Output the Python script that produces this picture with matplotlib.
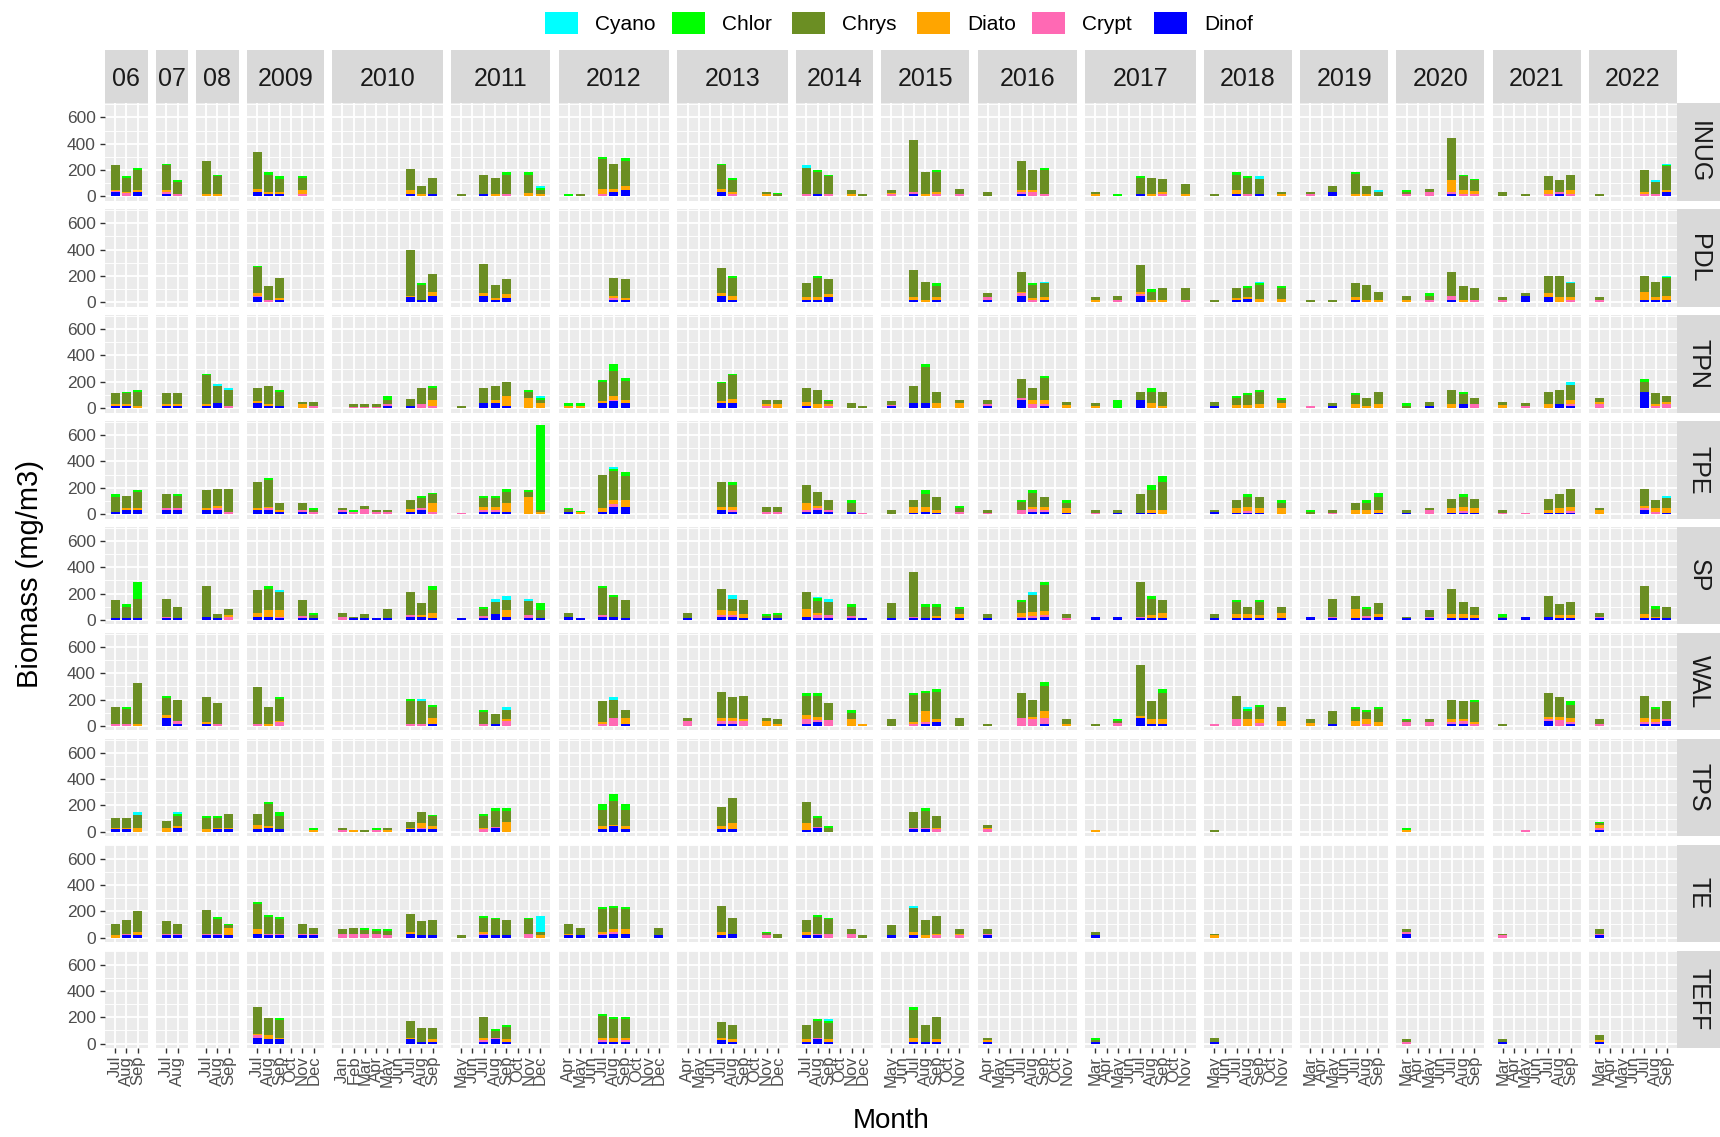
import matplotlib.pyplot as plt
from matplotlib.patches import Rectangle

plt.rcParams['font.family'] = ['Liberation Sans', 'DejaVu Sans']

# facet columns (years) and the sampled months shown on each x axis
YEARS = ["06", "07", "08", "2009", "2010", "2011", "2012", "2013", "2014",
         "2015", "2016", "2017", "2018", "2019", "2020", "2021", "2022"]
YEAR_MONTHS = [
    ["Jul", "Aug", "Sep"],
    ["Jul", "Aug"],
    ["Jul", "Aug", "Sep"],
    ["Jul", "Aug", "Sep", "Oct", "Nov", "Dec"],
    ["Jan", "Feb", "Mar", "Apr", "May", "Jun", "Jul", "Aug", "Sep"],
    ["May", "Jun", "Jul", "Aug", "Sep", "Oct", "Nov", "Dec"],
    ["Apr", "May", "Jun", "Jul", "Aug", "Sep", "Oct", "Nov", "Dec"],
    ["Apr", "May", "Jun", "Jul", "Aug", "Sep", "Oct", "Nov", "Dec"],
    ["Jul", "Aug", "Sep", "Oct", "Nov", "Dec"],
    ["May", "Jun", "Jul", "Aug", "Sep", "Oct", "Nov"],
    ["Apr", "May", "Jun", "Jul", "Aug", "Sep", "Oct", "Nov"],
    ["Mar", "Apr", "May", "Jun", "Jul", "Aug", "Sep", "Oct", "Nov"],
    ["May", "Jun", "Jul", "Aug", "Sep", "Oct", "Nov"],
    ["Mar", "Apr", "May", "Jun", "Jul", "Aug", "Sep"],
    ["Mar", "Apr", "May", "Jun", "Jul", "Aug", "Sep"],
    ["Mar", "Apr", "May", "Jun", "Jul", "Aug", "Sep"],
    ["Mar", "Apr", "May", "Jun", "Jul", "Aug", "Sep"],
]
SITES = ["INUG", "PDL", "TPN", "TPE", "SP", "WAL", "TPS", "TE", "TEFF"]

# stacking order, bottom to top
TAXA = ["Dinof", "Crypt", "Diato", "Chrys", "Chlor", "Cyano"]
COLORS = {"Cyano": "#00FFFF", "Chlor": "#00FF00", "Chrys": "#6B8E23",
          "Diato": "#FFA500", "Crypt": "#FF69B4", "Dinof": "#0000FF"}
LEGEND_ORDER = ["Cyano", "Chlor", "Chrys", "Diato", "Crypt", "Dinof"]

# (year, month, Dinof, Crypt, Diato, Chrys, Chlor, Cyano) in mg/m3
INUG = [
    ("06", "Jul", 30, 12, 10, 183, 0, 0), ("06", "Aug", 0, 25, 10, 105, 14, 0),
    ("06", "Sep", 30, 0, 15, 156, 13, 0),
    ("07", "Jul", 18, 12, 18, 187, 8, 0), ("07", "Aug", 0, 18, 0, 90, 17, 0),
    ("08", "Jul", 0, 0, 18, 253, 0, 0), ("08", "Aug", 0, 0, 18, 140, 8, 0),
    ("2009", "Jul", 30, 0, 25, 285, 0, 0), ("2009", "Aug", 20, 0, 10, 133, 20, 0),
    ("2009", "Sep", 20, 0, 10, 102, 20, 0), ("2009", "Nov", 0, 20, 30, 87, 15, 0),
    ("2010", "Jul", 18, 0, 30, 157, 0, 0), ("2010", "Aug", 0, 0, 18, 64, 0, 0),
    ("2010", "Sep", 20, 0, 0, 116, 0, 0),
    ("2011", "May", 0, 0, 0, 20, 0, 0), ("2011", "Jul", 20, 0, 0, 146, 0, 0),
    ("2011", "Aug", 0, 0, 15, 121, 0, 0), ("2011", "Sep", 0, 18, 0, 148, 18, 0),
    ("2011", "Nov", 0, 0, 25, 141, 18, 0), ("2011", "Dec", 0, 0, 20, 30, 10, 15),
    ("2012", "Apr", 0, 0, 0, 0, 20, 0), ("2012", "May", 0, 0, 0, 20, 0, 0),
    ("2012", "Jul", 0, 18, 38, 230, 13, 0), ("2012", "Aug", 30, 0, 25, 190, 0, 0),
    ("2012", "Sep", 49, 0, 28, 195, 18, 0),
    ("2013", "Jul", 30, 0, 25, 180, 8, 0), ("2013", "Aug", 0, 18, 13, 97, 8, 0),
    ("2013", "Nov", 0, 0, 15, 15, 0, 0), ("2013", "Dec", 0, 0, 0, 18, 8, 0),
    ("2014", "Jul", 0, 18, 0, 197, 0, 20), ("2014", "Aug", 18, 0, 0, 166, 18, 0),
    ("2014", "Sep", 0, 18, 0, 136, 10, 0), ("2014", "Nov", 0, 0, 18, 31, 0, 0),
    ("2014", "Dec", 0, 0, 0, 18, 0, 0),
    ("2015", "May", 0, 18, 8, 23, 0, 0), ("2015", "Jul", 18, 12, 0, 397, 0, 0),
    ("2015", "Aug", 0, 0, 20, 164, 0, 0), ("2015", "Sep", 0, 20, 10, 154, 18, 0),
    ("2015", "Nov", 0, 20, 0, 38, 0, 0),
    ("2016", "Apr", 0, 0, 0, 31, 0, 0), ("2016", "Jul", 20, 10, 18, 223, 0, 0),
    ("2016", "Aug", 0, 30, 18, 154, 0, 0), ("2016", "Sep", 0, 20, 0, 182, 13, 0),
    ("2017", "Mar", 0, 0, 20, 11, 0, 0), ("2017", "May", 0, 0, 0, 0, 20, 0),
    ("2017", "Jul", 20, 0, 0, 118, 15, 0), ("2017", "Aug", 0, 0, 20, 116, 0, 0),
    ("2017", "Sep", 0, 20, 15, 100, 0, 0), ("2017", "Nov", 0, 0, 20, 77, 0, 0),
    ("2018", "May", 0, 0, 0, 20, 0, 0), ("2018", "Jul", 20, 0, 28, 118, 18, 0),
    ("2018", "Aug", 0, 20, 0, 118, 15, 0), ("2018", "Sep", 20, 0, 0, 113, 0, 20),
    ("2018", "Nov", 0, 0, 20, 10, 0, 0),
    ("2019", "Mar", 0, 20, 0, 10, 0, 0), ("2019", "May", 30, 0, 0, 46, 0, 0),
    ("2019", "Jul", 0, 0, 20, 151, 13, 0), ("2019", "Aug", 0, 0, 20, 56, 0, 0),
    ("2019", "Sep", 0, 0, 0, 30, 5, 13),
    ("2020", "Mar", 0, 20, 0, 10, 19, 0), ("2020", "May", 0, 30, 0, 28, 0, 0),
    ("2020", "Jul", 20, 10, 95, 320, 0, 0), ("2020", "Aug", 0, 20, 28, 105, 13, 0),
    ("2020", "Sep", 0, 20, 23, 82, 10, 0),
    ("2021", "Mar", 0, 0, 0, 31, 0, 0), ("2021", "May", 0, 0, 0, 20, 0, 0),
    ("2021", "Jul", 0, 20, 28, 105, 0, 0), ("2021", "Aug", 20, 10, 0, 95, 0, 0),
    ("2021", "Sep", 0, 20, 28, 118, 0, 0),
    ("2022", "Mar", 0, 0, 0, 20, 0, 0), ("2022", "Jul", 0, 20, 15, 167, 0, 0),
    ("2022", "Aug", 0, 20, 0, 87, 0, 18), ("2022", "Sep", 30, 0, 18, 179, 8, 10),
]

PDL = [
    ("2009", "Jul", 38, 10, 20, 196, 15, 0), ("2009", "Aug", 0, 20, 0, 107, 0, 0),
    ("2009", "Sep", 18, 0, 18, 148, 0, 0),
    ("2010", "Jul", 38, 0, 10, 350, 0, 0), ("2010", "Aug", 18, 0, 0, 110, 20, 0),
    ("2010", "Sep", 48, 0, 28, 138, 0, 0),
    ("2011", "Jul", 48, 0, 20, 223, 0, 0), ("2011", "Aug", 18, 0, 18, 92, 0, 0),
    ("2011", "Sep", 36, 0, 28, 110, 0, 0),
    ("2012", "Aug", 18, 18, 13, 135, 0, 0), ("2012", "Sep", 18, 0, 18, 138, 0, 0),
    ("2013", "Jul", 48, 0, 20, 192, 0, 0), ("2013", "Aug", 18, 0, 31, 135, 18, 0),
    ("2014", "Jul", 18, 0, 20, 107, 0, 0), ("2014", "Aug", 18, 0, 25, 140, 18, 0),
    ("2014", "Sep", 38, 0, 25, 110, 0, 0),
    ("2015", "Jul", 18, 0, 20, 204, 0, 0), ("2015", "Aug", 0, 0, 18, 135, 0, 0),
    ("2015", "Sep", 18, 0, 20, 89, 18, 0),
    ("2016", "Apr", 18, 20, 0, 31, 0, 0), ("2016", "Jul", 48, 20, 10, 154, 0, 0),
    ("2016", "Aug", 0, 18, 18, 92, 18, 0), ("2016", "Sep", 18, 0, 20, 107, 0, 10),
    ("2017", "Mar", 0, 0, 18, 20, 0, 0), ("2017", "May", 0, 18, 0, 30, 0, 0),
    ("2017", "Jul", 48, 15, 15, 202, 0, 0), ("2017", "Aug", 0, 0, 18, 61, 18, 0),
    ("2017", "Sep", 0, 0, 18, 89, 0, 0), ("2017", "Nov", 0, 18, 0, 89, 0, 0),
    ("2018", "May", 0, 0, 0, 18, 0, 0), ("2018", "Jul", 18, 0, 18, 71, 0, 0),
    ("2018", "Aug", 28, 0, 15, 64, 18, 0), ("2018", "Sep", 0, 0, 28, 105, 12, 8),
    ("2018", "Nov", 0, 0, 28, 79, 18, 0),
    ("2019", "Mar", 0, 0, 0, 18, 0, 0), ("2019", "May", 0, 0, 0, 18, 0, 0),
    ("2019", "Jul", 18, 0, 20, 107, 0, 0), ("2019", "Aug", 0, 0, 18, 110, 0, 0),
    ("2019", "Sep", 0, 0, 18, 61, 0, 0),
    ("2020", "Mar", 0, 0, 18, 30, 0, 0), ("2020", "May", 0, 18, 0, 30, 20, 0),
    ("2020", "Jul", 18, 30, 0, 184, 0, 0), ("2020", "Aug", 0, 0, 18, 107, 0, 0),
    ("2020", "Sep", 0, 18, 0, 89, 0, 0),
    ("2021", "Mar", 0, 18, 0, 20, 0, 0), ("2021", "May", 48, 0, 0, 20, 0, 0),
    ("2021", "Jul", 38, 0, 31, 133, 0, 0), ("2021", "Aug", 0, 0, 38, 163, 0, 0),
    ("2021", "Sep", 0, 18, 20, 107, 0, 10),
    ("2022", "Mar", 0, 18, 0, 20, 0, 0), ("2022", "Jul", 18, 0, 61, 122, 0, 0),
    ("2022", "Aug", 18, 0, 20, 117, 0, 0), ("2022", "Sep", 18, 0, 31, 135, 10, 8),
]

TPN = [
    ("06", "Jul", 20, 0, 15, 77, 0, 0), ("06", "Aug", 20, 0, 15, 77, 10, 0),
    ("06", "Sep", 0, 0, 20, 102, 18, 0),
    ("07", "Jul", 18, 0, 13, 82, 0, 0), ("07", "Aug", 18, 0, 13, 82, 0, 0),
    ("08", "Jul", 18, 0, 15, 218, 10, 0), ("08", "Aug", 38, 0, 0, 133, 0, 13),
    ("08", "Sep", 0, 18, 0, 123, 0, 13),
    ("2009", "Jul", 38, 0, 13, 102, 0, 0), ("2009", "Aug", 18, 0, 15, 138, 0, 0),
    ("2009", "Sep", 18, 0, 0, 105, 18, 0), ("2009", "Nov", 0, 0, 33, 13, 0, 0),
    ("2009", "Dec", 0, 18, 0, 28, 0, 0),
    ("2010", "Feb", 0, 10, 0, 20, 0, 0), ("2010", "Mar", 0, 10, 0, 20, 0, 0),
    ("2010", "Apr", 0, 10, 0, 20, 0, 0), ("2010", "May", 18, 13, 0, 33, 25, 0),
    ("2010", "Jul", 13, 0, 0, 59, 0, 0), ("2010", "Aug", 0, 31, 0, 123, 0, 0),
    ("2010", "Sep", 0, 18, 46, 90, 18, 0),
    ("2011", "May", 0, 0, 0, 18, 0, 0), ("2011", "Jul", 38, 0, 0, 115, 0, 0),
    ("2011", "Aug", 38, 0, 25, 107, 0, 0), ("2011", "Sep", 18, 0, 77, 107, 0, 0),
    ("2011", "Nov", 0, 0, 77, 46, 18, 0), ("2011", "Dec", 0, 0, 43, 20, 13, 18),
    ("2012", "Apr", 0, 0, 18, 0, 25, 0), ("2012", "May", 0, 0, 18, 0, 18, 0),
    ("2012", "Jul", 38, 0, 13, 148, 18, 0), ("2012", "Aug", 51, 13, 31, 187, 56, 0),
    ("2012", "Sep", 38, 0, 25, 141, 26, 0),
    ("2013", "Jul", 38, 0, 13, 138, 13, 0), ("2013", "Aug", 38, 0, 31, 182, 10, 0),
    ("2013", "Nov", 0, 18, 15, 31, 0, 0), ("2013", "Dec", 0, 0, 33, 31, 0, 0),
    ("2014", "Jul", 18, 0, 28, 107, 0, 0), ("2014", "Aug", 0, 0, 33, 108, 0, 0),
    ("2014", "Sep", 0, 18, 15, 20, 10, 0), ("2014", "Nov", 0, 0, 0, 36, 0, 0),
    ("2014", "Dec", 0, 0, 0, 18, 0, 0),
    ("2015", "May", 13, 10, 0, 32, 0, 0), ("2015", "Jul", 38, 0, 0, 133, 0, 0),
    ("2015", "Aug", 38, 0, 0, 276, 20, 0), ("2015", "Sep", 0, 0, 38, 84, 0, 0),
    ("2015", "Nov", 0, 0, 38, 26, 0, 0),
    ("2016", "Apr", 18, 15, 0, 31, 0, 0), ("2016", "Jul", 64, 13, 0, 141, 0, 0),
    ("2016", "Aug", 0, 33, 31, 90, 0, 0), ("2016", "Sep", 18, 15, 31, 166, 18, 0),
    ("2016", "Nov", 0, 0, 25, 20, 0, 0),
    ("2017", "Mar", 0, 0, 18, 18, 0, 0), ("2017", "May", 0, 0, 0, 0, 64, 0),
    ("2017", "Jul", 64, 0, 0, 59, 0, 0), ("2017", "Aug", 0, 0, 38, 84, 31, 0),
    ("2017", "Sep", 0, 0, 18, 105, 0, 0),
    ("2018", "May", 18, 0, 0, 28, 0, 0), ("2018", "Jul", 0, 0, 25, 51, 18, 0),
    ("2018", "Aug", 0, 0, 25, 72, 15, 0), ("2018", "Sep", 0, 0, 33, 90, 18, 0),
    ("2018", "Nov", 0, 0, 38, 26, 13, 0),
    ("2019", "Mar", 0, 18, 0, 0, 0, 0), ("2019", "May", 18, 0, 0, 18, 0, 0),
    ("2019", "Jul", 0, 0, 33, 64, 15, 0), ("2019", "Aug", 0, 0, 18, 59, 0, 0),
    ("2019", "Sep", 0, 0, 33, 90, 0, 0),
    ("2020", "Mar", 0, 0, 0, 18, 18, 0), ("2020", "May", 18, 0, 0, 28, 0, 0),
    ("2020", "Jul", 0, 0, 33, 108, 0, 0), ("2020", "Aug", 33, 0, 0, 74, 15, 0),
    ("2020", "Sep", 0, 33, 0, 44, 0, 0),
    ("2021", "Mar", 0, 0, 25, 21, 0, 0), ("2021", "May", 0, 18, 0, 18, 0, 0),
    ("2021", "Jul", 0, 0, 33, 90, 0, 0), ("2021", "Aug", 33, 0, 0, 108, 0, 0),
    ("2021", "Sep", 18, 15, 31, 115, 0, 20),
    ("2022", "Mar", 0, 33, 13, 31, 0, 0), ("2022", "Jul", 123, 0, 0, 77, 18, 0),
    ("2022", "Aug", 0, 18, 15, 79, 0, 0), ("2022", "Sep", 0, 33, 13, 49, 0, 0),
]

TPE = [
    ("06", "Jul", 18, 0, 0, 115, 18, 0), ("06", "Aug", 31, 0, 13, 94, 0, 0),
    ("06", "Sep", 31, 0, 18, 120, 15, 0),
    ("07", "Jul", 31, 13, 0, 110, 0, 0), ("07", "Aug", 31, 13, 0, 94, 15, 0),
    ("08", "Jul", 31, 0, 13, 140, 0, 0), ("08", "Aug", 31, 13, 18, 130, 0, 0),
    ("08", "Sep", 0, 18, 0, 173, 0, 0),
    ("2009", "Jul", 31, 0, 18, 191, 0, 0), ("2009", "Aug", 31, 13, 13, 199, 18, 0),
    ("2009", "Sep", 18, 0, 13, 51, 0, 0), ("2009", "Nov", 18, 13, 0, 56, 0, 0),
    ("2009", "Dec", 0, 18, 0, 12, 18, 0),
    ("2010", "Jan", 18, 13, 0, 18, 0, 0), ("2010", "Feb", 0, 18, 0, 0, 13, 0),
    ("2010", "Mar", 0, 36, 0, 25, 0, 0), ("2010", "Apr", 0, 18, 0, 13, 0, 0),
    ("2010", "May", 0, 18, 0, 13, 0, 0), ("2010", "Jul", 18, 0, 18, 71, 0, 0),
    ("2010", "Aug", 31, 13, 0, 77, 18, 0), ("2010", "Sep", 0, 18, 64, 71, 10, 0),
    ("2011", "May", 0, 10, 0, 0, 0, 0), ("2011", "Jul", 18, 13, 25, 64, 18, 0),
    ("2011", "Aug", 18, 13, 25, 64, 18, 0), ("2011", "Sep", 18, 0, 69, 77, 28, 0),
    ("2011", "Nov", 0, 0, 133, 31, 20, 0), ("2011", "Dec", 0, 0, 18, 13, 642, 0),
    ("2012", "Apr", 18, 0, 0, 18, 13, 0), ("2012", "May", 0, 0, 18, 0, 8, 0),
    ("2012", "Jul", 18, 0, 25, 255, 0, 0), ("2012", "Aug", 56, 20, 31, 217, 18, 13),
    ("2012", "Sep", 51, 0, 56, 184, 25, 0),
    ("2013", "Jul", 31, 0, 20, 189, 0, 0), ("2013", "Aug", 18, 13, 25, 166, 18, 0),
    ("2013", "Nov", 0, 18, 0, 38, 0, 0), ("2013", "Dec", 0, 18, 0, 38, 0, 0),
    ("2014", "Jul", 18, 13, 56, 135, 0, 0), ("2014", "Aug", 31, 13, 18, 102, 0, 0),
    ("2014", "Sep", 18, 13, 0, 77, 0, 0), ("2014", "Nov", 18, 0, 0, 69, 20, 0),
    ("2014", "Dec", 0, 10, 0, 0, 0, 0),
    ("2015", "May", 0, 0, 0, 31, 0, 0), ("2015", "Jul", 10, 0, 46, 51, 0, 0),
    ("2015", "Aug", 18, 0, 38, 97, 31, 0), ("2015", "Sep", 10, 0, 20, 102, 0, 0),
    ("2015", "Nov", 0, 18, 0, 25, 18, 0),
    ("2016", "Apr", 0, 10, 0, 21, 0, 0), ("2016", "Jul", 0, 31, 0, 61, 15, 0),
    ("2016", "Aug", 18, 18, 20, 107, 20, 0), ("2016", "Sep", 18, 13, 25, 77, 0, 0),
    ("2016", "Nov", 10, 0, 33, 43, 20, 0),
    ("2017", "Mar", 0, 10, 0, 21, 0, 0), ("2017", "May", 10, 0, 0, 21, 0, 0),
    ("2017", "Jul", 10, 0, 0, 143, 0, 0), ("2017", "Aug", 10, 0, 20, 153, 38, 0),
    ("2017", "Sep", 0, 0, 31, 209, 51, 0),
    ("2018", "May", 18, 0, 0, 13, 0, 0), ("2018", "Jul", 10, 0, 33, 64, 0, 0),
    ("2018", "Aug", 10, 15, 25, 82, 20, 0), ("2018", "Sep", 10, 0, 33, 89, 0, 0),
    ("2018", "Nov", 0, 0, 43, 43, 20, 0),
    ("2019", "Mar", 0, 0, 0, 18, 13, 0), ("2019", "May", 0, 10, 0, 21, 0, 0),
    ("2019", "Jul", 0, 0, 31, 56, 0, 0), ("2019", "Aug", 0, 0, 31, 56, 20, 0),
    ("2019", "Sep", 10, 0, 20, 102, 31, 0),
    ("2020", "Mar", 10, 0, 0, 21, 0, 0), ("2020", "May", 0, 31, 0, 18, 0, 0),
    ("2020", "Jul", 10, 0, 33, 72, 0, 0), ("2020", "Aug", 10, 15, 25, 82, 20, 0),
    ("2020", "Sep", 10, 0, 33, 72, 0, 0),
    ("2021", "Mar", 0, 10, 0, 21, 0, 0), ("2021", "May", 0, 10, 0, 0, 0, 0),
    ("2021", "Jul", 10, 0, 20, 85, 0, 0), ("2021", "Aug", 10, 0, 33, 110, 0, 0),
    ("2021", "Sep", 10, 15, 25, 140, 0, 0),
    ("2022", "Mar", 0, 0, 31, 18, 0, 0), ("2022", "Jul", 31, 13, 18, 130, 0, 0),
    ("2022", "Aug", 0, 18, 25, 64, 0, 0), ("2022", "Sep", 10, 0, 33, 77, 0, 18),
]

SP = [
    ("06", "Jul", 18, 0, 0, 135, 0, 0), ("06", "Aug", 18, 0, 0, 84, 18, 0),
    ("06", "Sep", 18, 0, 0, 143, 128, 0),
    ("07", "Jul", 18, 8, 0, 135, 0, 0), ("07", "Aug", 18, 0, 0, 84, 0, 0),
    ("08", "Jul", 25, 0, 0, 230, 0, 0), ("08", "Aug", 18, 0, 0, 25, 0, 0),
    ("08", "Sep", 0, 25, 13, 46, 0, 0),
    ("2009", "Jul", 25, 0, 25, 179, 0, 0), ("2009", "Aug", 25, 0, 51, 161, 18, 0),
    ("2009", "Sep", 18, 8, 51, 133, 0, 20), ("2009", "Nov", 18, 15, 0, 120, 0, 0),
    ("2009", "Dec", 18, 0, 0, 20, 13, 0),
    ("2010", "Jan", 0, 25, 0, 25, 0, 0), ("2010", "Feb", 18, 0, 0, 7, 0, 0),
    ("2010", "Mar", 18, 0, 0, 25, 0, 0), ("2010", "Apr", 18, 0, 0, 0, 0, 0),
    ("2010", "May", 18, 0, 0, 66, 0, 0), ("2010", "Jul", 25, 13, 0, 171, 0, 0),
    ("2010", "Aug", 25, 0, 13, 94, 0, 0), ("2010", "Sep", 18, 0, 33, 179, 25, 0),
    ("2011", "May", 18, 0, 0, 0, 0, 0), ("2011", "Jul", 18, 15, 0, 51, 18, 0),
    ("2011", "Aug", 43, 0, 0, 92, 0, 26), ("2011", "Sep", 25, 0, 51, 77, 0, 26),
    ("2011", "Nov", 18, 20, 0, 107, 0, 15), ("2011", "Dec", 18, 0, 0, 59, 51, 0),
    ("2012", "Apr", 25, 0, 0, 25, 0, 0), ("2012", "May", 18, 0, 0, 0, 0, 0),
    ("2012", "Jul", 25, 13, 0, 204, 13, 0), ("2012", "Aug", 25, 0, 0, 146, 16, 0),
    ("2012", "Sep", 18, 0, 0, 135, 0, 0),
    ("2013", "Apr", 18, 0, 0, 33, 0, 0), ("2013", "Jul", 25, 13, 38, 158, 0, 0),
    ("2013", "Aug", 25, 13, 31, 92, 0, 26), ("2013", "Sep", 18, 0, 25, 110, 0, 0),
    ("2013", "Nov", 18, 0, 0, 15, 10, 0), ("2013", "Dec", 18, 0, 0, 20, 13, 0),
    ("2014", "Jul", 25, 0, 59, 125, 0, 0), ("2014", "Aug", 18, 20, 13, 94, 20, 13),
    ("2014", "Sep", 18, 20, 0, 97, 0, 26), ("2014", "Nov", 18, 15, 0, 69, 18, 0),
    ("2014", "Dec", 18, 0, 0, 0, 0, 0),
    ("2015", "May", 18, 0, 0, 112, 0, 0), ("2015", "Jul", 18, 8, 0, 340, 0, 0),
    ("2015", "Aug", 18, 0, 0, 84, 18, 0), ("2015", "Sep", 18, 0, 10, 74, 18, 0),
    ("2015", "Nov", 18, 0, 25, 41, 18, 0),
    ("2016", "Apr", 18, 0, 0, 25, 0, 0), ("2016", "Jul", 18, 8, 25, 84, 18, 0),
    ("2016", "Aug", 18, 15, 25, 128, 0, 26), ("2016", "Sep", 25, 13, 31, 194, 26, 0),
    ("2016", "Nov", 0, 18, 0, 25, 0, 0),
    ("2017", "Mar", 25, 0, 0, 0, 0, 0), ("2017", "May", 25, 0, 0, 0, 0, 0),
    ("2017", "Jul", 18, 8, 0, 262, 0, 0), ("2017", "Aug", 18, 0, 20, 123, 18, 0),
    ("2017", "Sep", 18, 0, 33, 102, 0, 0),
    ("2018", "May", 18, 0, 0, 25, 0, 0), ("2018", "Jul", 18, 0, 25, 92, 18, 0),
    ("2018", "Aug", 18, 0, 25, 59, 0, 0), ("2018", "Sep", 18, 0, 20, 97, 18, 0),
    ("2018", "Nov", 18, 0, 33, 51, 0, 0),
    ("2019", "Mar", 25, 0, 0, 0, 0, 0), ("2019", "May", 18, 8, 0, 135, 0, 0),
    ("2019", "Jul", 18, 0, 66, 95, 0, 0), ("2019", "Aug", 18, 15, 0, 51, 18, 0),
    ("2019", "Sep", 25, 0, 18, 84, 0, 0),
    ("2020", "Mar", 18, 0, 0, 7, 0, 0), ("2020", "May", 18, 8, 0, 51, 0, 0),
    ("2020", "Jul", 18, 0, 25, 194, 0, 0), ("2020", "Aug", 18, 0, 25, 92, 0, 0),
    ("2020", "Sep", 18, 0, 20, 64, 0, 0),
    ("2021", "Mar", 18, 0, 0, 7, 18, 0), ("2021", "May", 25, 0, 0, 0, 0, 0),
    ("2021", "Jul", 25, 0, 0, 154, 0, 0), ("2021", "Aug", 18, 0, 20, 82, 0, 0),
    ("2021", "Sep", 18, 0, 20, 95, 0, 0),
    ("2022", "Mar", 18, 8, 0, 25, 0, 0), ("2022", "Jul", 18, 0, 25, 212, 0, 0),
    ("2022", "Aug", 18, 0, 8, 59, 18, 0), ("2022", "Sep", 18, 0, 0, 84, 0, 0),
]

WAL = [
    ("06", "Jul", 0, 13, 0, 129, 0, 0), ("06", "Aug", 0, 13, 0, 114, 15, 0),
    ("06", "Sep", 0, 0, 13, 311, 0, 0),
    ("07", "Jul", 56, 0, 25, 132, 15, 0), ("07", "Aug", 13, 23, 0, 162, 0, 0),
    ("08", "Jul", 13, 0, 18, 187, 0, 0), ("08", "Aug", 0, 13, 0, 157, 0, 0),
    ("2009", "Jul", 0, 13, 0, 283, 0, 0), ("2009", "Aug", 0, 0, 13, 129, 0, 0),
    ("2009", "Sep", 0, 30, 5, 167, 15, 0),
    ("2010", "Jul", 0, 13, 0, 177, 13, 0), ("2010", "Aug", 0, 13, 0, 177, 0, 13),
    ("2010", "Sep", 13, 0, 43, 89, 15, 0),
    ("2011", "Jul", 0, 13, 0, 94, 15, 0), ("2011", "Aug", 13, 0, 0, 78, 0, 0),
    ("2011", "Sep", 0, 35, 20, 63, 0, 23),
    ("2012", "Jul", 0, 13, 18, 159, 0, 0), ("2012", "Aug", 0, 56, 0, 139, 0, 25),
    ("2012", "Sep", 13, 0, 43, 63, 0, 0),
    ("2013", "Apr", 0, 35, 0, 28, 0, 0), ("2013", "Jul", 13, 23, 20, 203, 0, 0),
    ("2013", "Aug", 13, 23, 20, 162, 0, 0), ("2013", "Sep", 0, 35, 20, 170, 0, 0),
    ("2013", "Nov", 0, 0, 35, 28, 0, 0), ("2013", "Dec", 0, 0, 13, 38, 0, 0),
    ("2014", "Jul", 13, 38, 30, 149, 18, 0), ("2014", "Aug", 30, 13, 25, 162, 18, 0),
    ("2014", "Sep", 0, 43, 0, 127, 0, 0), ("2014", "Nov", 0, 0, 51, 48, 23, 0),
    ("2014", "Dec", 0, 0, 15, 0, 0, 0),
    ("2015", "May", 0, 0, 0, 50, 0, 0), ("2015", "Jul", 0, 13, 18, 202, 13, 0),
    ("2015", "Aug", 13, 13, 86, 134, 18, 0), ("2015", "Sep", 30, 0, 20, 207, 20, 0),
    ("2015", "Nov", 0, 0, 0, 63, 0, 0),
    ("2016", "Apr", 0, 0, 0, 15, 0, 0), ("2016", "Jul", 0, 56, 0, 192, 0, 0),
    ("2016", "Aug", 0, 51, 18, 129, 0, 0), ("2016", "Sep", 13, 48, 51, 192, 30, 0),
    ("2016", "Nov", 0, 0, 13, 38, 0, 0),
    ("2017", "Mar", 0, 0, 0, 15, 0, 0), ("2017", "May", 0, 25, 0, 10, 15, 0),
    ("2017", "Jul", 56, 0, 20, 384, 0, 0), ("2017", "Aug", 13, 0, 38, 136, 0, 0),
    ("2017", "Sep", 13, 0, 38, 202, 25, 0),
    ("2018", "May", 0, 15, 0, 0, 0, 0), ("2018", "Jul", 0, 51, 0, 177, 0, 0),
    ("2018", "Aug", 0, 0, 51, 61, 15, 15), ("2018", "Sep", 0, 18, 33, 91, 18, 0),
    ("2018", "Nov", 0, 0, 35, 106, 0, 0),
    ("2019", "Mar", 0, 0, 18, 33, 0, 0), ("2019", "May", 13, 0, 0, 98, 0, 0),
    ("2019", "Jul", 0, 0, 35, 91, 15, 0), ("2019", "Aug", 0, 13, 38, 56, 15, 0),
    ("2019", "Sep", 0, 0, 30, 96, 15, 0),
    ("2020", "Mar", 0, 30, 0, 13, 8, 0), ("2020", "May", 0, 30, 0, 20, 0, 0),
    ("2020", "Jul", 13, 18, 20, 147, 0, 0), ("2020", "Aug", 13, 23, 15, 136, 0, 0),
    ("2020", "Sep", 0, 13, 20, 152, 12, 0),
    ("2021", "Mar", 0, 0, 0, 15, 0, 0), ("2021", "Jul", 35, 15, 18, 180, 0, 0),
    ("2021", "Aug", 0, 43, 25, 150, 0, 0), ("2021", "Sep", 13, 18, 30, 96, 30, 0),
    ("2022", "Mar", 0, 13, 0, 38, 0, 0), ("2022", "Jul", 13, 13, 35, 167, 0, 0),
    ("2022", "Aug", 13, 13, 25, 76, 15, 0), ("2022", "Sep", 35, 15, 0, 137, 0, 0),
]

TPS = [
    ("06", "Jul", 20, 0, 10, 71, 0, 0), ("06", "Aug", 20, 0, 10, 71, 0, 0),
    ("06", "Sep", 0, 0, 30, 96, 0, 25),
    ("07", "Jul", 0, 0, 30, 50, 0, 0), ("07", "Aug", 30, 0, 15, 76, 15, 15),
    ("08", "Jul", 0, 0, 20, 86, 15, 0), ("08", "Aug", 20, 0, 10, 76, 15, 0),
    ("08", "Sep", 20, 0, 10, 103, 0, 0),
    ("2009", "Jul", 20, 0, 35, 78, 0, 0), ("2009", "Aug", 30, 0, 15, 164, 18, 0),
    ("2009", "Sep", 20, 0, 0, 101, 30, 0), ("2009", "Dec", 0, 0, 15, 0, 10, 0),
    ("2010", "Jan", 0, 15, 0, 10, 0, 0), ("2010", "Feb", 0, 0, 15, 0, 0, 0),
    ("2010", "Mar", 0, 0, 0, 15, 0, 0), ("2010", "Apr", 0, 15, 0, 0, 10, 0),
    ("2010", "May", 0, 0, 15, 10, 0, 0), ("2010", "Jul", 20, 0, 10, 45, 0, 0),
    ("2010", "Aug", 20, 10, 40, 81, 0, 0), ("2010", "Sep", 20, 0, 25, 71, 15, 0),
    ("2011", "Jul", 0, 20, 10, 88, 15, 0), ("2011", "Aug", 30, 10, 0, 116, 25, 0),
    ("2011", "Sep", 0, 0, 71, 86, 25, 0),
    ("2012", "Jul", 20, 0, 25, 121, 43, 0), ("2012", "Aug", 45, 0, 10, 179, 50, 0),
    ("2012", "Sep", 20, 0, 25, 121, 43, 0),
    ("2013", "Jul", 20, 0, 25, 146, 0, 0), ("2013", "Aug", 20, 0, 50, 187, 0, 0),
    ("2014", "Jul", 15, 0, 55, 156, 0, 0), ("2014", "Aug", 25, 15, 0, 66, 15, 0),
    ("2014", "Sep", 0, 0, 0, 30, 15, 0),
    ("2015", "Jul", 20, 10, 0, 121, 0, 0), ("2015", "Aug", 20, 10, 0, 131, 20, 0),
    ("2015", "Sep", 0, 20, 10, 91, 0, 0),
    ("2016", "Apr", 0, 20, 10, 25, 0, 0),
    ("2017", "Mar", 0, 0, 15, 0, 0, 0),
    ("2018", "May", 0, 0, 0, 15, 0, 0),
    ("2020", "Mar", 0, 0, 15, 0, 10, 0),
    ("2021", "May", 0, 15, 0, 0, 0, 0),
    ("2022", "Mar", 15, 15, 25, 13, 8, 0),
]

TE = [
    ("06", "Jul", 0, 0, 18, 85, 0, 0), ("06", "Aug", 18, 8, 0, 105, 0, 0),
    ("06", "Sep", 18, 0, 25, 156, 0, 0),
    ("07", "Jul", 18, 8, 0, 98, 0, 0), ("07", "Aug", 18, 8, 0, 78, 0, 0),
    ("08", "Jul", 18, 8, 0, 186, 0, 0), ("08", "Aug", 18, 13, 0, 108, 15, 0),
    ("08", "Sep", 18, 0, 55, 20, 10, 0),
    ("2009", "Jul", 30, 0, 33, 193, 13, 0), ("2009", "Aug", 18, 8, 0, 128, 15, 0),
    ("2009", "Sep", 18, 8, 0, 113, 15, 0), ("2009", "Nov", 18, 8, 0, 78, 0, 0),
    ("2009", "Dec", 18, 13, 0, 43, 0, 0),
    ("2010", "Jan", 0, 30, 0, 33, 0, 0), ("2010", "Feb", 0, 30, 0, 43, 0, 0),
    ("2010", "Mar", 0, 30, 0, 25, 18, 0), ("2010", "Apr", 0, 30, 0, 18, 15, 0),
    ("2010", "May", 0, 23, 0, 25, 15, 0), ("2010", "Jul", 30, 0, 13, 138, 0, 0),
    ("2010", "Aug", 18, 0, 0, 105, 0, 0), ("2010", "Sep", 18, 0, 0, 113, 0, 0),
    ("2011", "May", 0, 0, 0, 18, 0, 0), ("2011", "Jul", 18, 10, 15, 110, 15, 0),
    ("2011", "Aug", 18, 0, 0, 120, 15, 0), ("2011", "Sep", 18, 0, 0, 113, 0, 0),
    ("2011", "Nov", 0, 28, 0, 110, 15, 0), ("2011", "Dec", 0, 0, 18, 25, 0, 125),
    ("2012", "Apr", 18, 0, 12, 73, 0, 0), ("2012", "May", 18, 0, 0, 55, 0, 0),
    ("2012", "Jul", 18, 10, 15, 176, 13, 0), ("2012", "Aug", 30, 13, 20, 161, 15, 0),
    ("2012", "Sep", 30, 0, 33, 156, 13, 0), ("2012", "Dec", 18, 0, 0, 55, 0, 0),
    ("2013", "Jul", 18, 0, 25, 196, 0, 0), ("2013", "Aug", 30, 0, 0, 123, 0, 0),
    ("2013", "Nov", 0, 18, 0, 15, 10, 0), ("2013", "Dec", 0, 0, 0, 25, 0, 0),
    ("2014", "Jul", 18, 0, 25, 88, 0, 0), ("2014", "Aug", 18, 13, 0, 123, 15, 0),
    ("2014", "Sep", 0, 28, 0, 110, 15, 0), ("2014", "Nov", 0, 28, 0, 35, 0, 0),
    ("2014", "Dec", 0, 0, 0, 18, 0, 0),
    ("2015", "May", 18, 0, 0, 75, 0, 0), ("2015", "Jul", 18, 0, 25, 181, 0, 15),
    ("2015", "Aug", 0, 0, 18, 113, 0, 0), ("2015", "Sep", 0, 18, 12, 138, 0, 0),
    ("2015", "Nov", 0, 18, 13, 33, 0, 0),
    ("2016", "Apr", 18, 13, 0, 33, 0, 0),
    ("2017", "Mar", 18, 0, 0, 25, 0, 0),
    ("2018", "May", 0, 0, 18, 7, 0, 0),
    ("2020", "Mar", 30, 13, 0, 20, 0, 0),
    ("2021", "Mar", 0, 18, 0, 7, 0, 0),
    ("2022", "Mar", 18, 8, 0, 38, 0, 0),
]

TEFF = [
    ("2009", "Jul", 44, 20, 10, 200, 0, 0), ("2009", "Aug", 32, 0, 32, 133, 0, 0),
    ("2009", "Sep", 32, 0, 12, 138, 15, 0),
    ("2010", "Jul", 32, 0, 12, 124, 0, 0), ("2010", "Aug", 15, 0, 0, 104, 0, 0),
    ("2010", "Sep", 15, 0, 20, 84, 0, 0),
    ("2011", "Jul", 15, 15, 15, 153, 0, 0), ("2011", "Aug", 32, 12, 0, 49, 15, 0),
    ("2011", "Sep", 15, 0, 20, 89, 15, 0),
    ("2012", "Jul", 15, 12, 17, 163, 17, 0), ("2012", "Aug", 15, 0, 30, 138, 15, 0),
    ("2012", "Sep", 15, 15, 15, 138, 15, 0),
    ("2013", "Jul", 27, 0, 12, 128, 0, 0), ("2013", "Aug", 15, 0, 20, 104, 0, 0),
    ("2014", "Jul", 15, 0, 20, 104, 0, 0), ("2014", "Aug", 35, 10, 0, 124, 15, 0),
    ("2014", "Sep", 15, 0, 20, 124, 15, 10),
    ("2015", "Jul", 15, 0, 25, 217, 17, 0), ("2015", "Aug", 15, 0, 0, 124, 0, 0),
    ("2015", "Sep", 15, 0, 20, 163, 0, 0),
    ("2016", "Apr", 15, 0, 15, 15, 0, 0),
    ("2017", "Mar", 15, 0, 0, 15, 15, 0),
    ("2018", "May", 15, 0, 0, 25, 0, 0),
    ("2020", "Mar", 0, 15, 0, 20, 0, 0),
    ("2021", "Mar", 15, 0, 0, 20, 0, 0),
    ("2022", "Mar", 15, 0, 15, 35, 0, 0),
]

SITE_DATA = [INUG, PDL, TPN, TPE, SP, WAL, TPS, TE, TEFF]

# ---- layout in pixels ----
W, H = 1720, 1137
fig = plt.figure(figsize=(W / 100, H / 100), dpi=100)


def box(x0, y0, w, h):
    return [x0 / W, 1 - (y0 + h) / H, w / W, h / H]


left, right = 105, 1677
gap = 8.3
strip_top = 50
row_top0, row_pitch, row_h = 103.3, 105.9, 97.5
units = [len(m) + 0.8 for m in YEAR_MONTHS]
u = (right - left - gap * (len(units) - 1)) / sum(units)

ymax = max(sum(r[2:]) for d in SITE_DATA for r in d)
ylo, yhi = -0.05 * ymax, 1.05 * ymax

GRAY_TXT = '#4D4D4D'
xs = left
for j, (yr, months) in enumerate(zip(YEARS, YEAR_MONTHS)):
    pw = units[j] * u
    n = len(months)

    sax = fig.add_axes(box(xs, strip_top, pw, row_top0 - strip_top))
    sax.set_facecolor('#D9D9D9')
    sax.set_xticks([]); sax.set_yticks([])
    for s in sax.spines.values():
        s.set_visible(False)
    sax.text(0.5, 0.45, yr, ha='center', va='center', fontsize=18,
             color='#1A1A1A', transform=sax.transAxes)

    for i, site in enumerate(SITES):
        ax = fig.add_axes(box(xs, row_top0 + i * row_pitch, pw, row_h))
        ax.set_facecolor('#EBEBEB')
        for s in ax.spines.values():
            s.set_visible(False)
        ax.set_xlim(-0.9, n - 0.1)
        ax.set_ylim(ylo, yhi)
        ax.set_xticks(range(n))
        ax.set_yticks([0, 200, 400, 600])
        ax.set_yticks([100, 300, 500, 700], minor=True)
        ax.grid(which='major', color='white', lw=1.3)
        ax.grid(which='minor', axis='y', color='white', lw=0.65)
        ax.set_axisbelow(True)
        ax.tick_params(which='minor', length=0)
        ax.tick_params(which='major', length=3.5, width=1.0, color='#333333')

        if j == 0:
            ax.set_yticklabels(["0", "200", "400", "600"], fontsize=12.5, color=GRAY_TXT)
            ax.tick_params(axis='y', pad=3)
        else:
            ax.tick_params(axis='y', length=0, labelleft=False)
        if i == len(SITES) - 1:
            ax.set_xticklabels(months, rotation=90, fontsize=12, color=GRAY_TXT,
                               va='top', ha='center')
            ax.tick_params(axis='x', pad=2)
        else:
            ax.tick_params(axis='x', length=0, labelbottom=False)

        rows = [r for r in SITE_DATA[i] if r[0] == yr]
        if rows:
            xpos = [months.index(r[1]) for r in rows]
            bottom = [0.0] * len(rows)
            for k, taxon in enumerate(TAXA):
                hts = [r[2 + k] for r in rows]
                ax.bar(xpos, hts, bottom=bottom, width=0.8,
                       color=COLORS[taxon], linewidth=0, zorder=3)
                bottom = [b + h for b, h in zip(bottom, hts)]

    xs += pw + gap

# right-hand site strips
for i, site in enumerate(SITES):
    rax = fig.add_axes(box(right, row_top0 + i * row_pitch, W - right, row_h))
    rax.set_facecolor('#D9D9D9')
    rax.set_xticks([]); rax.set_yticks([])
    for s in rax.spines.values():
        s.set_visible(False)
    rax.text(0.5, 0.5, site, ha='center', va='center', rotation=-90, fontsize=18,
             color='#1A1A1A', transform=rax.transAxes)

# axis titles
fig.text(30 / W, 1 - 574 / H, "Biomass (mg/m3)", rotation=90, ha='center',
         va='center', fontsize=21)
fig.text((left + right) / 2 / W, 1 - 1121 / H, "Month", ha='center', va='center',
         fontsize=20)

# legend across the top
key_x = [545, 672, 792, 917, 1032, 1154]
for name, kx in zip(LEGEND_ORDER, key_x):
    fig.patches.append(Rectangle((kx / W, 1 - 34 / H), 33 / W, 22 / H,
                                 transform=fig.transFigure, facecolor=COLORS[name],
                                 edgecolor='none'))
    fig.text((kx + 50) / W, 1 - 24 / H, name, ha='left', va='center', fontsize=15)

plt.savefig('out.png', dpi=100)
